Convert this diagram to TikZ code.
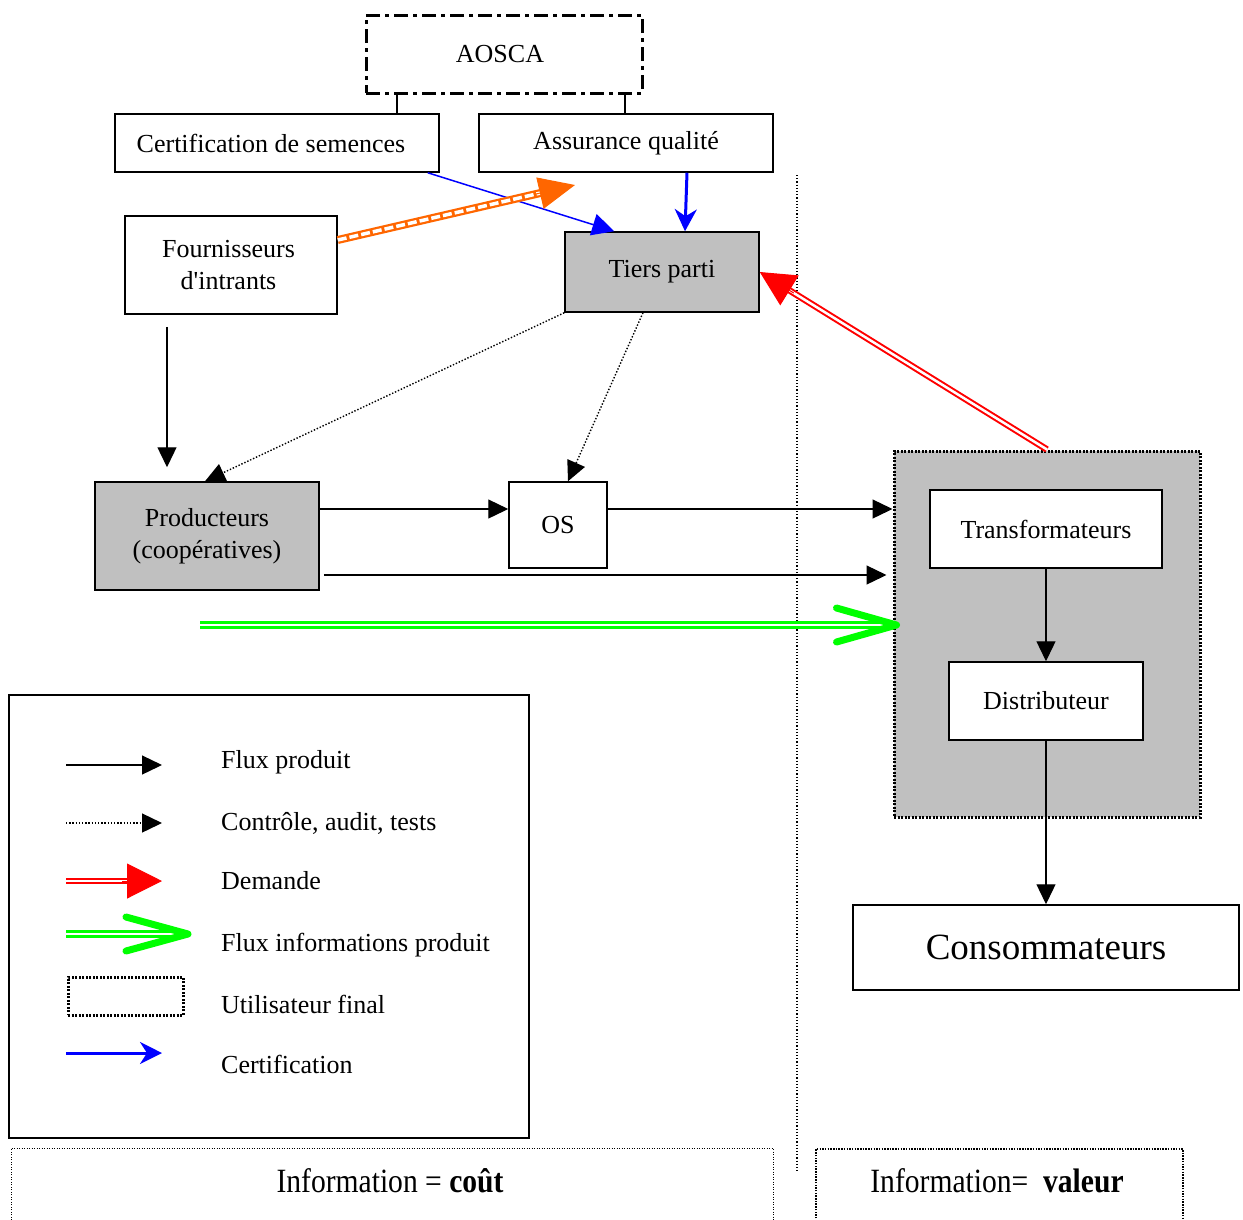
\documentclass[tikz,border=0pt]{standalone}
\usepackage{fontspec}
\setmainfont{Liberation Serif}[Ligatures=TeXOff]
\usetikzlibrary{arrows.meta,calc}
\definecolor{boxgray}{RGB}{192,192,192}
\definecolor{orng}{RGB}{255,102,0}
\definecolor{grn}{RGB}{0,255,0}
\definecolor{blu}{RGB}{0,0,255}
\definecolor{rd}{RGB}{255,0,0}
\newcommand\diagfont{\fontsize{26}{32}\selectfont}
\newcommand\bigdiagfont{\fontsize{37}{42}\selectfont}
\newcommand\botfont{\fontsize{34}{38}\selectfont}
\begin{document}
\begin{tikzpicture}[x=1pt,y=-1pt,
  box/.style={draw,line width=1.5pt,align=center,inner sep=0pt,font=\diagfont},
  grey/.style={fill=boxgray},
  flow/.style={line width=1.3pt,-{Triangle[length=20pt,width=19pt]}},
  ctrl/.style={line width=1.4pt,dash pattern=on 1.4pt off 1.8pt,-{Triangle[length=20pt,width=19pt]}},
  thinlink/.style={line width=1.3pt},
  certthin/.style={blu,line width=1.5pt,-{Triangle[length=22pt,width=22pt]}},
  certthick/.style={blu,line width=3pt,-{Stealth[length=22pt,width=22pt,inset=7pt]}},
  demshaft/.style={draw=rd,line width=2pt,double=white,double distance=2.5pt},
  demhead/.style={rd,line width=1pt,-{Triangle[length=35pt,width=35pt]}},
  infoshaft/.style={draw=grn,line width=3pt,double=white,double distance=2pt},
  infohead/.style={grn,line width=7pt,line cap=round,line join=round},
  orshaft/.style={orng,line width=8pt},
  orrungs/.style={white,line width=3.5pt,dash pattern=on 9pt off 3pt},
  orhead/.style={orng,line width=1pt,-{Triangle[length=36pt,width=32pt]}},
  finalbox/.style={draw,line width=3pt,dash pattern=on 2pt off 1.5pt},
  legtext/.style={anchor=base west,font=\diagfont,inner sep=0pt},
]
\useasboundingbox (0,0) rectangle (1243,1219);

% top boxes
\node[box,line width=3pt,dash pattern=on 14pt off 5pt on 4pt off 5pt,minimum width=276pt,minimum height=78pt] (aosca) at (504,54) {\hspace*{-8pt}AOSCA};
\node[box,minimum width=324pt,minimum height=58pt] (cert) at (277,143) {\hspace*{-12pt}Certification de semences};
\node[box,minimum width=294pt,minimum height=58pt] (assur) at (626,143) {Assurance qualité};
\node[box,minimum width=212pt,minimum height=98pt] (fourn) at (231,265) {\hspace*{-5pt}Fournisseurs\\\hspace*{-5pt}d'intrants};
\node[box,grey,minimum width=194pt,minimum height=80pt] (tiers) at (662,272) {Tiers parti};
\node[box,grey,minimum width=224pt,minimum height=108pt] (prod) at (207,536) {Producteurs\\(coopératives)};
\node[box,minimum width=98pt,minimum height=86pt] (os) at (558,525) {OS};

% right group
\node[finalbox,fill=boxgray,minimum width=306pt,minimum height=366pt,inner sep=0pt] (group) at (1047,634) {};
\node[box,fill=white,minimum width=232pt,minimum height=78pt] (trans) at (1046,529) {Transformateurs};
\node[box,fill=white,minimum width=194pt,minimum height=78pt] (distr) at (1046,701) {Distributeur};
\node[box,font=\bigdiagfont,minimum width=386pt,minimum height=85pt] (cons) at (1046,947.5) {Consommateurs};

% separator
\coordinate (sepTop) at (797,175);
\coordinate (sepBot) at (797,1172);
\draw[line width=1.2pt,dash pattern=on 1.2pt off 2pt] (sepTop) -- (sepBot);

% links AOSCA
\draw[thinlink] ([xshift=-107pt]aosca.south) -- ([xshift=-107pt]aosca.south |- cert.north);
\draw[thinlink] ([xshift=121pt]aosca.south) -- ([xshift=121pt]aosca.south |- assur.north);

% certification arrows
\draw[certthin] ([xshift=-12pt]cert.south east) -- ([xshift=50pt]tiers.north west);
\draw[certthick] ([xshift=61pt]assur.south) -- ([xshift=23pt]tiers.north);

% orange
\coordinate (orTip) at (575,185);
\coordinate (orStart) at ([yshift=25pt]fourn.east);
\draw[orshaft] (orStart) -- ($(orTip)!30pt!(orStart)$);
\draw[orrungs] (orStart) -- ($(orTip)!30pt!(orStart)$);
\draw[orhead] ($(orTip)!40pt!(orStart)$) -- (orTip);

% product flows
\draw[flow] ([xshift=-64pt,yshift=-12pt]fourn.south) -- ([xshift=-40pt,yshift=14pt]prod.north);
\draw[ctrl] (tiers.south west) -- ([xshift=-2pt]prod.north);
\draw[ctrl] ([xshift=-19pt]tiers.south) -- ([xshift=10pt]os.north);
\draw[flow] ([yshift=27pt]prod.east) -- ([yshift=16pt]os.west);
\draw[flow] ([yshift=16pt]os.east) -- ([yshift=16pt]os.east -| group.west);
\draw[flow] ([xshift=4pt,yshift=-39pt]prod.east) -- ([xshift=-6pt,yshift=-39pt]prod.east -| group.west);
\draw[flow] (trans.south) -- (distr.north);
\draw[flow] (distr.south) -- (cons.north);

% green info
\coordinate (gStart) at (200,625);
\coordinate (gTip) at ([xshift=4pt,yshift=9pt]group.west);
\draw[infoshaft] (gStart) -- ([xshift=-5pt]gTip);
\draw[infohead] ($(gTip)+(-60,-17)$) -- (gTip) -- ($(gTip)+(-60,17)$);

% red demand
\draw[demshaft] (group.north) -- ($(tiers.east)!30pt!(group.north)$);
\draw[demhead] ($(tiers.east)!40pt!(group.north)$) -- (tiers.east);

% legend
\node[draw,line width=1.5pt,minimum width=520pt,minimum height=443pt,inner sep=0pt] (legend) at (269,916.5) {};
\coordinate (l1a) at (66,765); \coordinate (l1b) at (162,765);
\draw[flow] (l1a) -- (l1b);
\node[legtext] (t1) at (221,768) {Flux produit};
\coordinate (l2a) at (66,823); \coordinate (l2b) at (162,823);
\draw[ctrl] (l2a) -- (l2b);
\node[legtext] (t2) at (221,830) {Contrôle, audit, tests};
\coordinate (l3a) at (66,881); \coordinate (l3b) at (162,881);
\draw[demshaft] (l3a) -- (134,881);
\draw[demhead] (122,881) -- (l3b);
\node[legtext] (t3) at (221,889) {Demande};
\coordinate (l4a) at (66,934); \coordinate (l4b) at (188,934);
\draw[infoshaft] (l4a) -- ([xshift=-5pt]l4b);
\draw[infohead] ($(l4b)+(-62,-17)$) -- (l4b) -- ($(l4b)+(-62,17)$);
\node[legtext] (t4) at (221,951) {Flux informations produit};
\node[finalbox,minimum width=115pt,minimum height=38pt,inner sep=0pt] (l5) at (125.5,996) {};
\node[legtext] (t5) at (221,1013) {Utilisateur final};
\coordinate (l6a) at (66,1053); \coordinate (l6b) at (162,1053);
\draw[certthick] (l6a) -- (l6b);
\node[legtext] (t6) at (221,1073) {Certification};

% bottom boxes
\draw[line width=0.9pt,dash pattern=on 1pt off 1.5pt] (11,1240) -- (11,1148) -- (773,1148) -- (773,1240);
\node[inner sep=0pt,font=\botfont] (infoL) at (390,1181) {\scalebox{0.87}[1]{Information = \textbf{coût}}};
\draw[line width=2.5pt,dash pattern=on 1.5pt off 1.2pt] (816,1240) -- (816,1149) -- (1183,1149) -- (1183,1240);
\node[inner sep=0pt,font=\botfont] (infoR) at (997,1181) {\scalebox{0.87}[1]{Information=\ \ \textbf{valeur}}};
\end{tikzpicture}
\end{document}
